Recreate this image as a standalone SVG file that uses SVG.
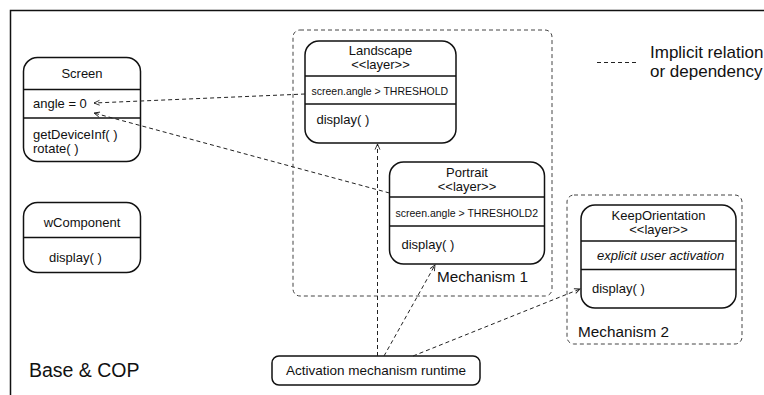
<svg xmlns="http://www.w3.org/2000/svg" width="764" height="395" viewBox="0 0 764 395">
<style>
text{font-family:"Liberation Sans",Arial,sans-serif;fill:#111}
.n{fill:#fff;stroke:#111;stroke-width:1.5}
.d{stroke:#111;stroke-width:1.5}
.m{fill:none;stroke:#444;stroke-width:1;stroke-dasharray:4,3}
.c{fill:none;stroke:#222;stroke-width:1;stroke-dasharray:4,3}
.t12{font-size:13px}
.t10{font-size:10.5px}
.mid{text-anchor:middle}
</style>
<defs>
<marker id="ah" viewBox="0 0 10 10" refX="9" refY="5" markerWidth="7" markerHeight="7" orient="auto" markerUnits="userSpaceOnUse">
<path d="M1,1.5 L9,5 L1,8.5" fill="none" stroke="#222" stroke-width="1.3"/>
</marker>
</defs>
<rect x="10.5" y="10.5" width="800" height="420" fill="none" stroke="#111" stroke-width="1.5"/>
<g id="mechanism1">
<rect class="m" x="293" y="30" width="259" height="266" rx="7"/>
<text x="437" y="282" font-size="15.3">Mechanism 1</text>
</g>
<g id="mechanism2">
<rect class="m" x="567" y="195" width="175" height="149" rx="7"/>
<text x="578" y="337" font-size="15.3">Mechanism 2</text>
</g>
<g id="screen">
<rect class="n" x="23.5" y="57.5" width="117" height="104" rx="14"/>
<line class="d" x1="23.5" y1="89.5" x2="140.5" y2="89.5"/>
<line class="d" x1="23.5" y1="118" x2="140.5" y2="118"/>
<text class="t12 mid" x="82" y="78">Screen</text>
<text class="t12" x="33" y="108">angle = 0</text>
<text class="t12" x="33" y="139">getDeviceInf( )</text>
<text class="t12" x="33" y="153">rotate( )</text>
</g>
<g id="wComponent">
<rect class="n" x="23.5" y="202.5" width="117" height="70" rx="14"/>
<line class="d" x1="23.5" y1="237.5" x2="140.5" y2="237.5"/>
<text class="t12 mid" x="82" y="227">wComponent</text>
<text class="t12" x="49" y="262">display( )</text>
</g>
<g id="landscape">
<rect class="n" x="305" y="41" width="151" height="102" rx="14"/>
<line class="d" x1="305" y1="76" x2="456" y2="76"/>
<line class="d" x1="305" y1="104" x2="456" y2="104"/>
<text class="t12 mid" x="380.5" y="55">Landscape</text>
<text class="t12 mid" x="380.5" y="69">&lt;&lt;layer&gt;&gt;</text>
<text class="t10" x="311.5" y="95">screen.angle &gt; THRESHOLD</text>
<text class="t12" x="316.5" y="124">display( )</text>
</g>
<g id="portrait">
<rect class="n" x="389.5" y="162" width="155" height="102" rx="14"/>
<line class="d" x1="389.5" y1="197" x2="544.5" y2="197"/>
<line class="d" x1="389.5" y1="226" x2="544.5" y2="226"/>
<text class="t12 mid" x="467" y="177">Portrait</text>
<text class="t12 mid" x="467" y="191">&lt;&lt;layer&gt;&gt;</text>
<text class="t10" x="395.5" y="217">screen.angle &gt; THRESHOLD2</text>
<text class="t12" x="401.5" y="249">display( )</text>
</g>
<g id="keepOrientation">
<rect class="n" x="581" y="205" width="155" height="103" rx="14"/>
<line class="d" x1="581" y1="241" x2="736" y2="241"/>
<line class="d" x1="581" y1="269.5" x2="736" y2="269.5"/>
<text class="t12 mid" x="658.5" y="220">KeepOrientation</text>
<text class="t12 mid" x="658.5" y="234">&lt;&lt;layer&gt;&gt;</text>
<text class="t12" x="597" y="260" font-style="italic">explicit user activation</text>
<text class="t12" x="592" y="293">display( )</text>
</g>
<g id="activation">
<rect class="n" x="272" y="356" width="208" height="29" rx="7"/>
<text class="mid" x="376" y="375" font-size="13.5">Activation mechanism runtime</text>
</g>
<g id="legend">
<line class="c" x1="597" y1="62.5" x2="637" y2="62.5"/>
<text x="650" y="58" font-size="17">Implicit relation</text>
<text x="650" y="77" font-size="17">or dependency</text>
</g>
<text x="29" y="377" font-size="19.5">Base &amp; COP</text>
<g id="connectors">
<path class="c" d="M305,94 L94,103" marker-end="url(#ah)"/>
<path class="c" d="M389.5,193 L94,113" marker-end="url(#ah)"/>
<path class="c" d="M377.5,356 L377.5,144" marker-end="url(#ah)"/>
<path class="c" d="M384,356 L435,265" marker-end="url(#ah)"/>
<path class="c" d="M413,356 L580,289" marker-end="url(#ah)"/>
</g>
</svg>
